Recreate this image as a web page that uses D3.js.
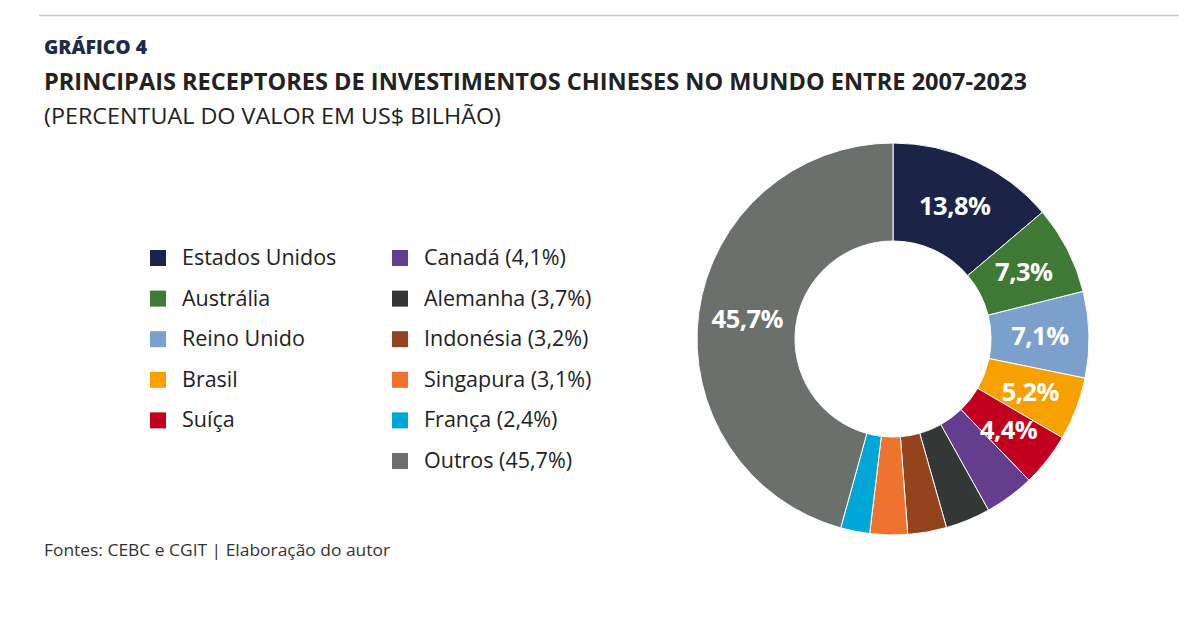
<!DOCTYPE html>
<html>
<head>
<meta charset="utf-8">
<script src="https://cdn.jsdelivr.net/npm/d3@7"></script>
<style>
  body { margin: 0; background: #fff; }
  svg { display: block; font-family: "Open Sans", "Noto Sans", sans-serif; }
</style>
</head>
<body>
<div id="chart-area"></div>
<script>
// data
var countries = ["Estados Unidos", "Austrália", "Reino Unido", "Brasil", "Suíça",
  "Canadá", "Alemanha", "Indonésia", "Singapura", "França", "Outros"];
var shares = [13.8, 7.3, 7.1, 5.2, 4.4, 4.1, 3.7, 3.2, 3.1, 2.4, 45.7];
var legendLabels = ["Estados Unidos", "Austrália", "Reino Unido", "Brasil", "Suíça",
  "Canadá (4,1%)", "Alemanha (3,7%)", "Indonésia (3,2%)", "Singapura (3,1%)", "França (2,4%)", "Outros (45,7%)"];
var labelled = ["Estados Unidos", "Austrália", "Reino Unido", "Brasil", "Suíça", "Outros"];
var colors = ["#1b2446", "#3f7a35", "#7aa0cb", "#f7a100", "#c1001f",
  "#643d8e", "#333836", "#94441c", "#f07230", "#00a6d6", "#6b706d"];

var width = 1179;
var height = 622;

var svg = d3.select("#chart-area")
  .append("svg")
  .attr("width", width)
  .attr("height", height);

// top rule
svg.append("line")
  .attr("x1", 39).attr("x2", width)
  .attr("y1", 15.5).attr("y2", 15.5)
  .attr("stroke", "#c5c9d1")
  .attr("stroke-width", 1.5);

// headings
svg.append("text")
  .attr("x", 44).attr("y", 54)
  .attr("font-size", "19px")
  .attr("font-weight", 800)
  .attr("fill", "#1e2a4a")
  .attr("textLength", 103)
  .attr("lengthAdjust", "spacingAndGlyphs")
  .text("GRÁFICO 4");

svg.append("text")
  .attr("x", 44).attr("y", 90)
  .attr("font-size", "22.5px")
  .attr("font-weight", 700)
  .attr("fill", "#222")
  .attr("textLength", 983)
  .attr("lengthAdjust", "spacingAndGlyphs")
  .text("PRINCIPAIS RECEPTORES DE INVESTIMENTOS CHINESES NO MUNDO ENTRE 2007-2023");

svg.append("text")
  .attr("x", 44).attr("y", 124)
  .attr("font-size", "21.5px")
  .attr("fill", "#222")
  .attr("textLength", 457)
  .attr("lengthAdjust", "spacingAndGlyphs")
  .text("(PERCENTUAL DO VALOR EM US$ BILHÃO)");

// footer
svg.append("text")
  .attr("x", 44).attr("y", 556)
  .attr("font-size", "16px")
  .attr("fill", "#333")
  .attr("textLength", 346)
  .attr("lengthAdjust", "spacingAndGlyphs")
  .text("Fontes: CEBC e CGIT | Elaboração do autor");

// legend
var color = d3.scaleOrdinal().domain(countries).range(colors);
var legend = svg.append("g");
var items = legend.selectAll("g")
  .data(countries)
  .enter()
  .append("g")
  .attr("transform", function(d, i) {
    var col = i < 5 ? 0 : 1;
    var row = i < 5 ? i : i - 5;
    return "translate(" + (col === 0 ? 150 : 392) + "," + (250 + row * 40.6) + ")";
  });

items.append("rect")
  .attr("width", 16)
  .attr("height", 16)
  .attr("fill", function(d) { return color(d); });

items.append("text")
  .attr("x", 32)
  .attr("y", 15)
  .attr("font-size", "21.5px")
  .attr("fill", "#222")
  .text(function(d, i) { return legendLabels[i]; });

// donut
var cx = 893, cy = 339;
var outer = 196, inner = 98;

var pie = d3.pie()
  .sort(null)
  .value(function(d) { return d; });

var arc = d3.arc()
  .innerRadius(inner)
  .outerRadius(outer);

var arcs = pie(shares);

var donut = svg.append("g")
  .attr("transform", "translate(" + cx + "," + cy + ")");

donut.selectAll("path")
  .data(arcs)
  .enter()
  .append("path")
  .attr("d", arc)
  .attr("fill", function(d, i) { return colors[i]; })
  .attr("stroke", "#fff")
  .attr("stroke-width", 1);

donut.selectAll("text")
  .data(arcs.filter(function(d, i) { return labelled.indexOf(countries[i]) >= 0; }))
  .enter()
  .append("text")
  .attr("transform", function(d) { return "translate(" + arc.centroid(d) + ")"; })
  .attr("text-anchor", "middle")
  .attr("dy", "0.36em")
  .attr("font-size", "25.5px")
  .attr("font-weight", 700)
  .attr("fill", "#fff")
  .attr("letter-spacing", "-0.5px")
  .text(function(d) { return String(d.data).replace(".", ",") + "%"; });
</script>
</body>
</html>
